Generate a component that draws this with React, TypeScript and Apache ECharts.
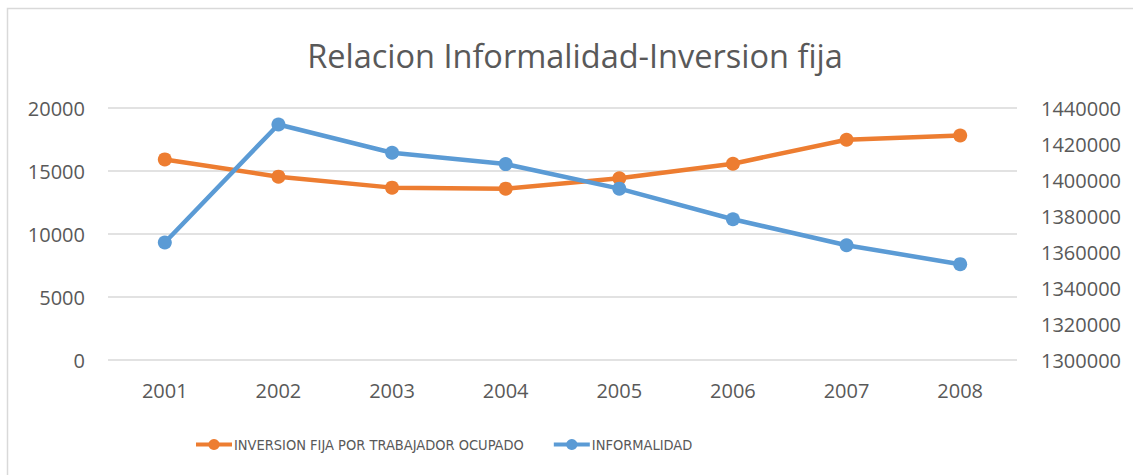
import React, { useEffect, useRef } from "react";
import * as echarts from "echarts";

const years = ["2001", "2002", "2003", "2004", "2005", "2006", "2007", "2008"];
const inversionFija = [15920, 14550, 13680, 13600, 14420, 15580, 17480, 17820];
const informalidad = [1365260, 1430850, 1415160, 1408840, 1395200, 1378180, 1363760, 1353230];

const leftTicks = { min: 0, max: 20000, interval: 5000 };
const rightTicks = { min: 1300000, max: 1440000, interval: 20000 };

const TEXT = "#595959";
const FONT = "'Open Sans', 'Noto Sans', sans-serif";
const NARROW = "'Liberation Sans Narrow', 'DejaVu Sans Condensed', 'Open Sans', sans-serif";

export default function App() {
  const ref = useRef<HTMLDivElement>(null);
  useEffect(() => {
    if (!ref.current) return;
    const chart = echarts.init(ref.current, undefined, { renderer: "svg" });
    chart.setOption({
      animation: false,
      backgroundColor: "#ffffff",
      textStyle: { fontFamily: FONT },
      title: {
        text: "Relacion Informalidad-Inversion fija",
        left: 570,
        textAlign: "center",
        top: 34,
        textStyle: { fontFamily: FONT, fontSize: 32.5, fontWeight: "normal", color: TEXT },
      },
      graphic: [
        {
          type: "rect",
          shape: { x: 7.5, y: 8.5, width: 1300, height: 600 },
          style: { fill: "none", stroke: "#d9d9d9", lineWidth: 1.5 },
          silent: true,
          z: -1,
        },
      ],
      legend: {
        left: 189,
        top: 432,
        itemWidth: 36,
        itemHeight: 14,
        itemGap: 28,
        lineStyle: { width: 4 },
        textStyle: { fontFamily: NARROW, fontSize: 14.5, color: TEXT, padding: [0, 0, 0, -3] },
        data: ["INVERSION FIJA POR TRABAJADOR OCUPADO", "INFORMALIDAD"],
      },
      grid: { left: 108, right: 116, top: 108, bottom: 115, containLabel: false },
      xAxis: {
        type: "category",
        data: years,
        boundaryGap: true,
        axisLine: { show: false },
        axisTick: { show: false },
        axisLabel: { color: TEXT, fontSize: 20, fontFamily: FONT, margin: 20 },
      },
      yAxis: [
        {
          type: "value",
          min: leftTicks.min,
          max: leftTicks.max,
          interval: leftTicks.interval,
          axisLine: { show: false },
          axisTick: { show: false },
          axisLabel: { color: TEXT, fontSize: 20, fontFamily: FONT, margin: 23, formatter: (v: number) => String(v) },
          splitLine: { lineStyle: { color: "#d9d9d9", width: 1.5 } },
        },
        {
          type: "value",
          position: "right",
          min: rightTicks.min,
          max: rightTicks.max,
          interval: rightTicks.interval,
          axisLine: { show: false },
          axisTick: { show: false },
          axisLabel: { color: TEXT, fontSize: 20, fontFamily: FONT, margin: 24, formatter: (v: number) => String(v) },
          splitLine: { show: false },
        },
      ],
      series: [
        {
          name: "INVERSION FIJA POR TRABAJADOR OCUPADO",
          type: "line",
          yAxisIndex: 0,
          data: inversionFija,
          symbol: "circle",
          symbolSize: 14,
          lineStyle: { color: "#ED7D31", width: 4.5 },
          itemStyle: { color: "#ED7D31" },
          z: 2,
        },
        {
          name: "INFORMALIDAD",
          type: "line",
          yAxisIndex: 1,
          data: informalidad,
          symbol: "circle",
          symbolSize: 14,
          lineStyle: { color: "#5B9BD5", width: 4.5 },
          itemStyle: { color: "#5B9BD5" },
          z: 3,
        },
      ],
    });
    return () => chart.dispose();
  }, []);
  return <div ref={ref} style={{ width: 1133, height: 475, position: "absolute", left: 0, top: 0 }} />;
}
